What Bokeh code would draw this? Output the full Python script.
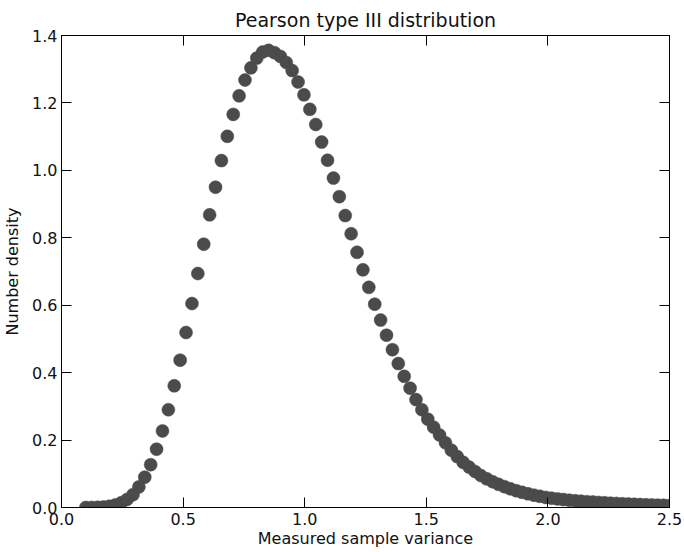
from bokeh.plotting import figure
from bokeh.models import Range1d, LinearAxis, FixedTicker, ColumnDataSource, PrintfTickFormatter
from bokeh.embed import file_html
from bokeh.resources import INLINE

# ---- data ----
title_text = "Pearson type III distribution"
x_label = "Measured sample variance"
y_label = "Number density"

x_ticks = [0.0, 0.5, 1.0, 1.5, 2.0, 2.5]
y_ticks = [0.0, 0.2, 0.4, 0.6, 0.8, 1.0, 1.2, 1.4]

variance = [
    0.1000, 0.1242, 0.1485, 0.1727, 0.1970, 0.2212, 0.2455, 0.2697, 0.2939, 0.3182,
    0.3424, 0.3667, 0.3909, 0.4152, 0.4394, 0.4636, 0.4879, 0.5121, 0.5364, 0.5606,
    0.5848, 0.6091, 0.6333, 0.6576, 0.6818, 0.7061, 0.7303, 0.7545, 0.7788, 0.8030,
    0.8273, 0.8515, 0.8758, 0.9000, 0.9242, 0.9485, 0.9727, 0.9970, 1.0212, 1.0455,
    1.0697, 1.0939, 1.1182, 1.1424, 1.1667, 1.1909, 1.2152, 1.2394, 1.2636, 1.2879,
    1.3121, 1.3364, 1.3606, 1.3848, 1.4091, 1.4333, 1.4576, 1.4818, 1.5061, 1.5303,
    1.5545, 1.5788, 1.6030, 1.6273, 1.6515, 1.6758, 1.7000, 1.7242, 1.7485, 1.7727,
    1.7970, 1.8212, 1.8455, 1.8697, 1.8939, 1.9182, 1.9424, 1.9667, 1.9909, 2.0152,
    2.0394, 2.0636, 2.0879, 2.1121, 2.1364, 2.1606, 2.1848, 2.2091, 2.2333, 2.2576,
    2.2818, 2.3061, 2.3303, 2.3545, 2.3788, 2.4030, 2.4273, 2.4515, 2.4758, 2.5000,
]

density = [
    0.00003, 0.00015, 0.0005, 0.0015, 0.0036, 0.0075, 0.014, 0.024, 0.038, 0.061,
    0.090, 0.127, 0.173, 0.227, 0.290, 0.361, 0.437, 0.519, 0.605, 0.694,
    0.781, 0.868, 0.950, 1.029, 1.101, 1.166, 1.221, 1.268, 1.304, 1.333,
    1.351, 1.356, 1.349, 1.338, 1.320, 1.296, 1.262, 1.224, 1.181, 1.136,
    1.084, 1.030, 0.977, 0.922, 0.866, 0.812, 0.757, 0.705, 0.653, 0.603,
    0.556, 0.511, 0.468, 0.427, 0.389, 0.354, 0.320, 0.290, 0.262, 0.238,
    0.215, 0.192, 0.170, 0.151, 0.134, 0.120, 0.107, 0.095, 0.085, 0.0764,
    0.0687, 0.0618, 0.0555, 0.0499, 0.0449, 0.0406, 0.0367, 0.0332, 0.030, 0.0277,
    0.0255, 0.0235, 0.0217, 0.020, 0.0186, 0.0173, 0.0161, 0.0150, 0.0139, 0.0129,
    0.012, 0.0111, 0.0103, 0.0095, 0.0088, 0.0082, 0.0076, 0.0070, 0.0065, 0.006,
]

FONT = "DejaVu Sans"
DOT = "#4b4b4b"

p = figure(
    width=684, height=552,
    x_range=Range1d(0, 2.5), y_range=Range1d(0, 1.4),
    output_backend="svg", toolbar_location=None,
    min_border_left=60, min_border_right=15,
    min_border_top=35, min_border_bottom=45,
    x_axis_type=None, y_axis_type=None,
    title=title_text,
)
p.title.align = "center"
p.title.text_font = FONT
p.title.text_font_size = "19px"
p.title.text_font_style = "normal"
p.title.text_color = "#111111"
p.title.standoff = 10

p.grid.visible = False
p.outline_line_color = "black"
p.outline_line_width = 1
p.background_fill_color = "white"
p.border_fill_color = "white"


def style_axis(ax, ticks, show_labels):
    ax.ticker = FixedTicker(ticks=ticks)
    ax.formatter = PrintfTickFormatter(format="%.1f")
    ax.major_tick_in = 10
    ax.major_tick_out = 0
    ax.major_tick_line_color = "black"
    ax.major_tick_line_width = 1
    ax.minor_tick_line_color = None
    ax.axis_line_color = "black"
    ax.axis_line_width = 1
    if show_labels:
        ax.major_label_text_font = FONT
        ax.major_label_text_font_size = "16px"
        ax.major_label_text_color = "#111111"
        ax.axis_label_text_font = FONT
        ax.axis_label_text_font_size = "16px"
        ax.axis_label_text_font_style = "normal"
        ax.axis_label_text_color = "#111111"
    else:
        # mirrored tick marks only, no labels drawn
        ax.major_label_text_font_size = "1px"
        ax.major_label_text_color = None
        ax.major_label_text_alpha = 0
        ax.major_label_standoff = 0


xb = LinearAxis(axis_label=x_label)
style_axis(xb, x_ticks, True)
xb.major_label_standoff = 5
xb.axis_label_standoff = 1
p.add_layout(xb, "below")

yl = LinearAxis(axis_label=y_label)
style_axis(yl, y_ticks, True)
yl.major_label_standoff = 4
yl.axis_label_standoff = 7
p.add_layout(yl, "left")

xt = LinearAxis()
style_axis(xt, x_ticks, False)
p.add_layout(xt, "above")

yr = LinearAxis()
style_axis(yr, y_ticks, False)
p.add_layout(yr, "right")

src = ColumnDataSource(data=dict(x=variance, y=density))
p.scatter("x", "y", source=src, size=13, marker="circle",
          fill_color=DOT, line_color=DOT, line_width=0.5)

open("out.html", "w").write(file_html(p, INLINE))
